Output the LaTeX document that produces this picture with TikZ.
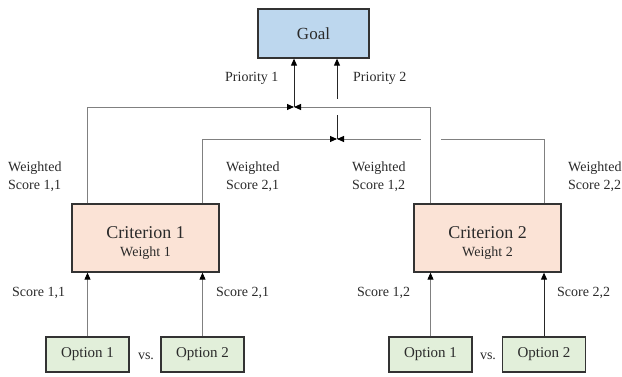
\documentclass[tikz,border=0pt]{standalone}
\usepackage{fontspec}
\setmainfont{Liberation Serif}
\usetikzlibrary{arrows.meta,calc}
\definecolor{goalfill}{HTML}{BDD7EE}
\definecolor{critfill}{HTML}{FBE3D6}
\definecolor{optfill}{HTML}{E2EFDA}
\definecolor{edgecol}{HTML}{333333}
\definecolor{wire}{HTML}{808080}
\definecolor{txt}{HTML}{2B2B2B}
\begin{document}
\begin{tikzpicture}[x=1pt,y=-1pt,
 box/.style={draw=edgecol, line width=1.3pt, inner sep=0pt, text=txt, align=center},
 critbox/.style={box, fill=critfill, minimum width=147pt, minimum height=68pt, font=\fontsize{18}{18}\selectfont},
 optbox/.style={box, fill=optfill, minimum width=83pt, minimum height=35pt, font=\fontsize{15}{18}\selectfont},
 lbl/.style={inner sep=0pt, text=txt, font=\fontsize{14}{18}\selectfont, align=left},
 wireline/.style={draw=wire, line width=0.9pt},
 darkline/.style={draw=black!85, line width=0.9pt},
 arr/.style={-{Triangle[length=7pt,width=6pt,color=black]}},
]
\useasboundingbox[fill=white] (0,0) rectangle (622,377);
% boxes
\node[box, fill=goalfill, minimum width=111pt, minimum height=49pt, font=\fontsize{17}{20}\selectfont] (goal) at (313.5,33.5) {Goal};
\node[critbox] (crit1) at (145.5,238) {\rule{0pt}{22pt}Criterion 1\\\fontsize{14}{18}\selectfont Weight 1};
\node[critbox] (crit2) at (487.5,238) {\rule{0pt}{22pt}Criterion 2\\\fontsize{14}{18}\selectfont Weight 2};
\node[optbox] (o11) at (87.5,354.5) {Option 1};
\node[optbox] (o21) at (202.5,354.5) {Option 2};
\node[optbox] (o12) at (430.5,354.5) {Option 1};
\node[optbox] (o22) at (544,354.5) {Option 2};
\node[lbl] (vs1) at (146,356) {vs.};
\node[lbl] (vs2) at (488,356) {vs.};
% junctions
\coordinate (j1) at (294,107);
\coordinate (j2) at (337,139);
% option -> criterion
\draw[wireline,arr] (o11) -- (o11 |- crit1.south);
\draw[wireline,arr] (o21) -- (o21 |- crit1.south);
\draw[wireline,arr] (o12) -- (o12 |- crit2.south);
\draw[darkline,arr] (o22) -- (o22 |- crit2.south);
% weighted scores
\draw[wireline,arr] (o11 |- crit1.north) |- (j1);
\draw[wireline,arr] (o12 |- crit2.north) |- (j1);
\draw[wireline,arr] (o21 |- crit1.north) |- (j2);
\draw[wireline] (o22 |- crit2.north) |- ($(o12 |- j2)+(10,0)$);
\draw[wireline,arr] ($(o12 |- j2)+(-10,0)$) -- (j2);
% priorities
\draw[darkline,arr] (j1) -- (j1 |- goal.south);
\draw[darkline] (j2) -- ($(j2 |- j1)+(0,8)$);
\draw[darkline,arr] ($(j2 |- j1)+(0,-8)$) -- (j2 |- goal.south);
% labels
\node[lbl, anchor=west] (p1) at (225,78) {Priority 1};
\node[lbl, anchor=west] (p2) at (353,78) {Priority 2};
\node[lbl, anchor=west] (w11) at (8,177) {Weighted\\Score 1,1};
\node[lbl, anchor=west] (w21) at (226,177) {Weighted\\Score 2,1};
\node[lbl, anchor=west] (w12) at (352,177) {Weighted\\Score 1,2};
\node[lbl, anchor=west] (w22) at (568,177) {Weighted\\Score 2,2};
\node[lbl, anchor=west] (s11) at (12,293) {Score 1,1};
\node[lbl, anchor=west] (s21) at (216,293) {Score 2,1};
\node[lbl, anchor=west] (s12) at (357,293) {Score 1,2};
\node[lbl, anchor=west] (s22) at (557,293) {Score 2,2};
\end{tikzpicture}
\end{document}
